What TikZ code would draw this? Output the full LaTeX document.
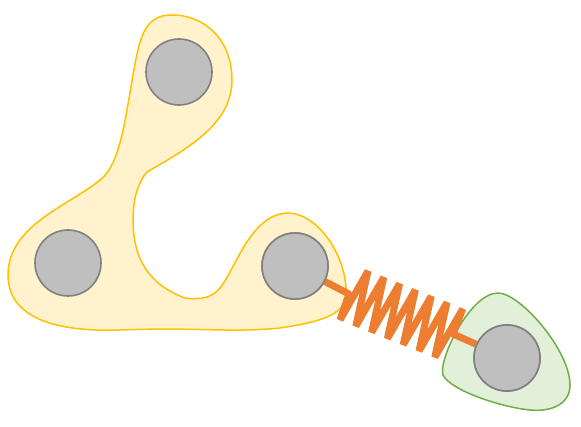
\documentclass[tikz,border=0pt]{standalone}
\definecolor{yfill}{HTML}{FFF2CC}
\definecolor{ystroke}{HTML}{FFC000}
\definecolor{gfill}{HTML}{E2F0D9}
\definecolor{gstroke}{HTML}{70AD47}
\definecolor{ballfill}{HTML}{BFBFBF}
\definecolor{ballstroke}{HTML}{808080}
\definecolor{springc}{HTML}{ED7D31}
\begin{document}
\begin{tikzpicture}[x=1pt,y=-1pt,
  ball/.style={circle,minimum size=66pt,inner sep=0pt,draw=ballstroke,fill=ballfill,line width=1.6pt},
  yblob/.style={draw=ystroke,fill=yfill,line width=1.5pt},
  gblob/.style={draw=gstroke,fill=gfill,line width=1.5pt},
  springline/.style={draw=springc,line width=7pt,line join=bevel}]
\useasboundingbox (0,0) rectangle (581,427);
% yellow blob
\path[yblob] (147,172) .. controls (185,150) and (232,125) .. (232,80)
 .. controls (232,40) and (205,15) .. (172,15)
 .. controls (145,15) and (140,35) .. (133,75)
 .. controls (125,120) and (120,165) .. (100,180)
 .. controls (70,205) and (8,225) .. (8,275)
 .. controls (8,320) and (60,332) .. (120,330)
 .. controls (200,327) and (230,333) .. (280,328)
 .. controls (320,322) and (345,315) .. (346,295)
 .. controls (348,260) and (320,213) .. (287,213)
 .. controls (250,215) and (235,270) .. (220,288)
 .. controls (212,298) and (200,300) .. (185,298)
 .. controls (150,285) and (133,260) .. (133,220)
 .. controls (133,195) and (140,180) .. (147,172) -- cycle;
% green blob
\path[gblob] (498,293) .. controls (520,293) and (570,350) .. (570,385)
 .. controls (570,405) and (550,412) .. (530,410)
 .. controls (500,407) and (450,390) .. (443,375)
 .. controls (438,360) and (470,293) .. (498,293) -- cycle;
% balls
\node[ball] (c1) at (179,72) {};
\node[ball] (c2) at (68,263) {};
\node[ball] (c3) at (295,266) {};
\node[ball] (c4) at (507,358) {};
% spring
\coordinate (s0) at (349,294);
\coordinate (s1) at (453,334);
\foreach \k in {0,...,6}{
  \coordinate (t\k) at ({368+15.8*\k},{271+6.3*\k});
  \coordinate (b\k) at ({340+15.8*\k},{320+6.2*\k});
}
\draw[springline,line cap=butt] (c3) -- (s0) -- (b0) -- (t0) -- (b1) -- (t1) -- (b2) -- (t2) -- (b3) -- (t3)
  -- (b4) -- (t4) -- (b5) -- (t5) -- (b6) -- (t6) -- (s1) -- (c4);
\node[ball] at (c3) {};
\node[ball] at (c4) {};
\end{tikzpicture}
\end{document}
